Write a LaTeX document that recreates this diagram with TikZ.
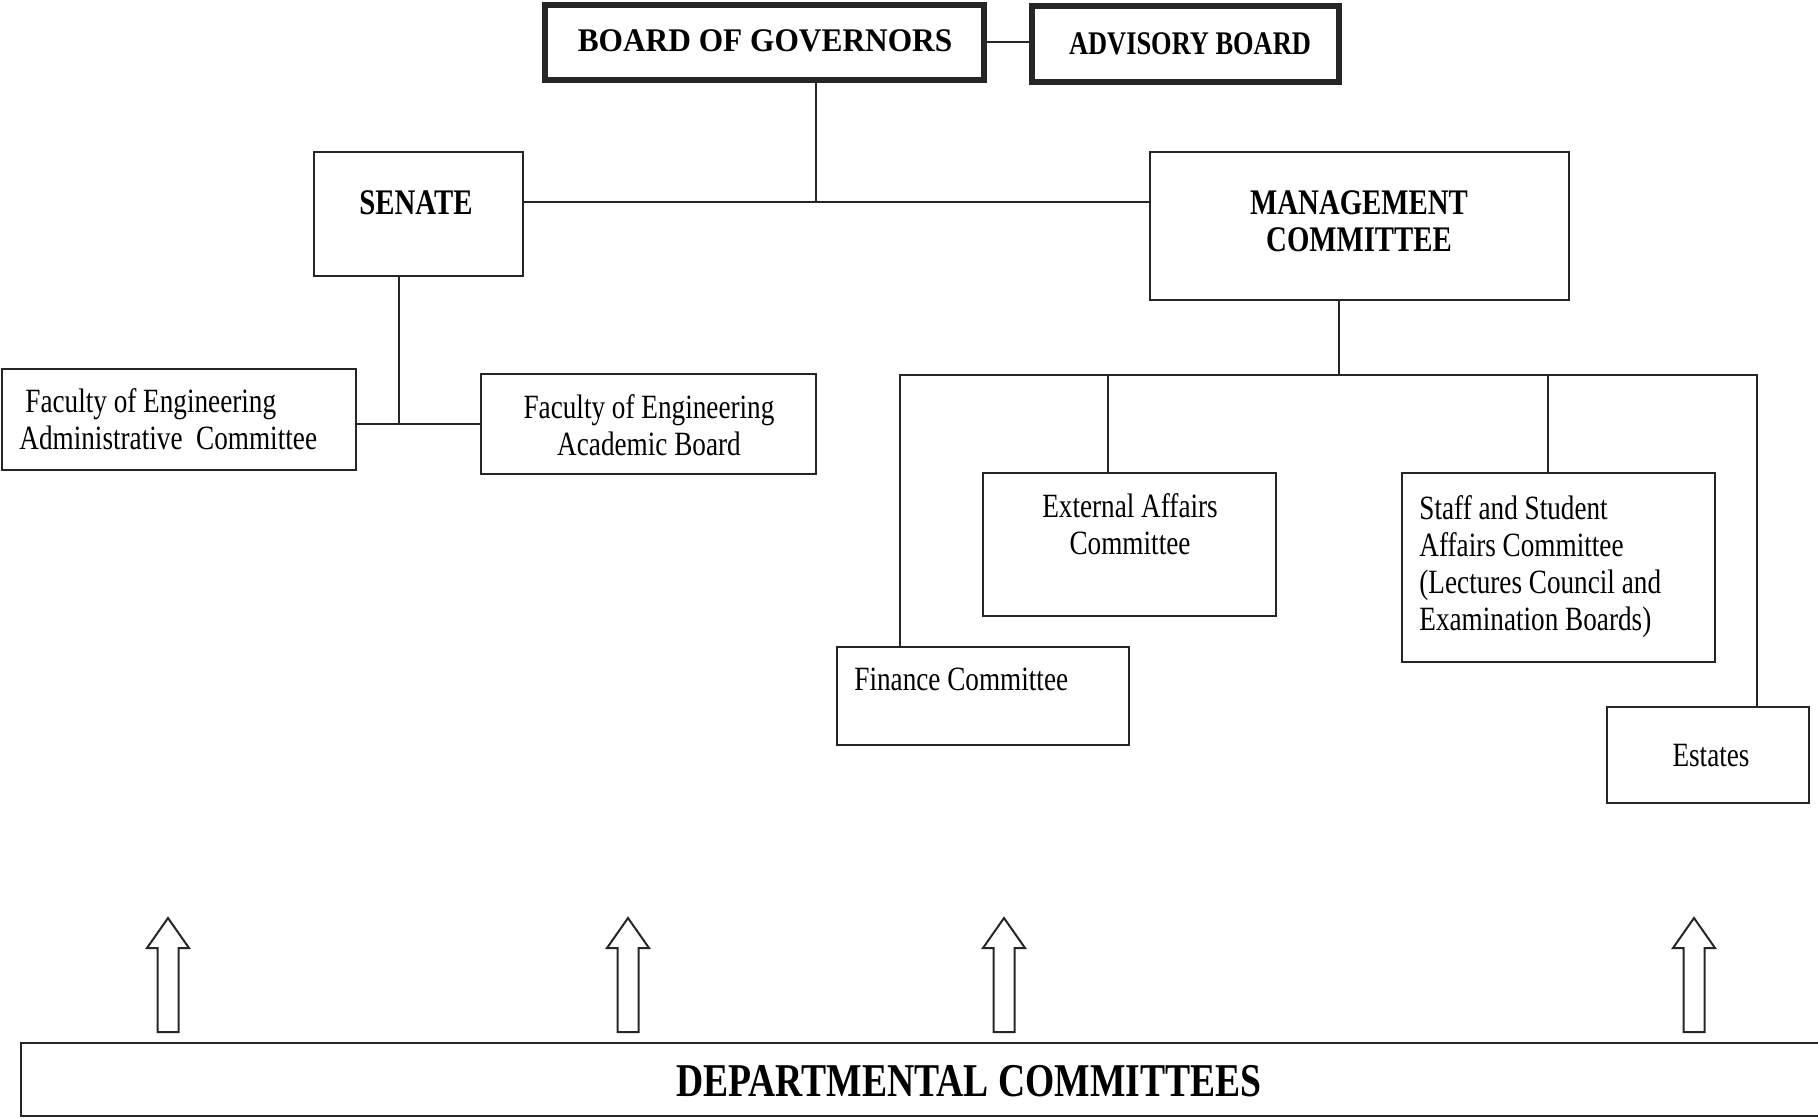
\documentclass[tikz,border=0pt]{standalone}
\usepackage{fontspec}
\setmainfont{Liberation Serif}[FakeStretch=0.8]
\newfontfamily\wideserif{Liberation Serif}[FakeStretch=0.95]
\begin{document}
\begin{tikzpicture}[x=0.5pt,y=-0.5pt,
  box/.style={draw=black!85, line width=1.2pt, rectangle, inner sep=0pt, fill=white},
  thickbox/.style={box, line width=2.6pt},
  conn/.style={draw=black!85, line width=1.15pt},
  regtxt/.style={font=\fontsize{17}{18.5}\selectfont, inner sep=0pt, align=center, text=black},
  boldtxt/.style={font=\fontsize{18}{18.5}\selectfont\bfseries, inner sep=0pt, align=center, text=black},
  uparrow/.style={draw=black!85, line width=1pt, fill=white, line join=miter}
]
\useasboundingbox (0,0) rectangle (1818,1118);

% boxes
\node[thickbox, minimum width=219.5pt, minimum height=37.5pt] (bog) at (764.5,42.5) {};
\node[thickbox, minimum width=153.5pt, minimum height=38pt] (adv) at (1185.5,44) {};
\node[box, minimum width=104.5pt, minimum height=62pt] (senate) at (418.5,214) {};
\node[box, minimum width=209.5pt, minimum height=74pt] (mgmt) at (1359.5,226) {};
\node[box, minimum width=177pt, minimum height=50.5pt] (admin) at (179,419.5) {};
\node[box, minimum width=167.5pt, minimum height=50pt] (acad) at (648.5,424) {};
\node[box, minimum width=146.5pt, minimum height=71.5pt] (ext) at (1129.5,544.5) {};
\node[box, minimum width=156.5pt, minimum height=94.5pt] (staff) at (1558.5,567.5) {};
\node[box, minimum width=146pt, minimum height=49pt] (fin) at (983,696) {};
\node[box, minimum width=101pt, minimum height=48pt] (est) at (1708,755) {};
\node[box, line width=1.4pt, minimum width=904.5pt, minimum height=36.5pt] (dept) at (925.5,1079.5) {};

% texts
\node[inner sep=0pt, font=\fontsize{16.5}{18}\selectfont\wideserif\bfseries] (tbog) at (765,41) {BOARD OF GOVERNORS};
\node[inner sep=0pt, font=\fontsize{16.5}{18}\selectfont\bfseries] (tadv) at (1190,44) {ADVISORY BOARD};
\node[boldtxt] (tsenate) at (416,203) {SENATE};
\node[boldtxt] (tmgmt) at (1359,221.5) {MANAGEMENT\\COMMITTEE};
\node[regtxt, align=left, anchor=west] (tadmin) at (19,419.5) {\hspace*{3pt}Faculty of Engineering\\Administrative\ \ Committee};
\node[regtxt] (tacad) at (649,425) {Faculty of Engineering\\Academic Board};
\node[regtxt] (text) at (1130,524.5) {External Affairs\\Committee};
\node[regtxt, align=left, anchor=west] (tstaff) at (1419,566.5) {Staff and Student\\Affairs Committee\\(Lectures Council and\\Examination Boards)};
\node[regtxt, anchor=west] (tfin) at (854,679) {Finance Committee};
\node[regtxt] (test) at (1711,756) {Estates};
\node[inner sep=0pt, font=\fontsize{23.5}{25}\selectfont\bfseries] (tdept) at (969,1081) {DEPARTMENTAL COMMITTEES};

% junction coordinates
\coordinate (j1) at (816,202);
\coordinate (j2) at (399,424);
\coordinate (j3) at (1339,375);
\coordinate (b1) at (900,375);
\coordinate (b2) at (1108,375);
\coordinate (b3) at (1548,375);
\coordinate (b4) at (1757,375);

% connectors
\draw[conn] (bog.east |- adv.west) ++(0,-2) coordinate (bx) (bx) -- (bx -| adv.west);
\draw[conn] (j1 |- bog.south) -- (j1);
\draw[conn] (senate.east |- j1) -- (mgmt.west |- j1);
\draw[conn] (j2 |- senate.south) -- (j2);
\draw[conn] (admin.east |- j2) -- (acad.west |- j2);
\draw[conn] (j3 |- mgmt.south) -- (j3);
\draw[conn] (b1 |- fin.north) -- (b1) -- (b4) -- (b4 |- est.north);
\draw[conn] (b2) -- (b2 |- ext.north);
\draw[conn] (b3) -- (b3 |- staff.north);

% block arrows
\foreach \ax in {168,628,1004,1694} {
  \draw[uparrow] (\ax-10.5,1032) -- (\ax-10.5,948) -- (\ax-21,948) -- (\ax,918)
    -- (\ax+21,948) -- (\ax+10.5,948) -- (\ax+10.5,1032) -- cycle;
}
\end{tikzpicture}
\end{document}
